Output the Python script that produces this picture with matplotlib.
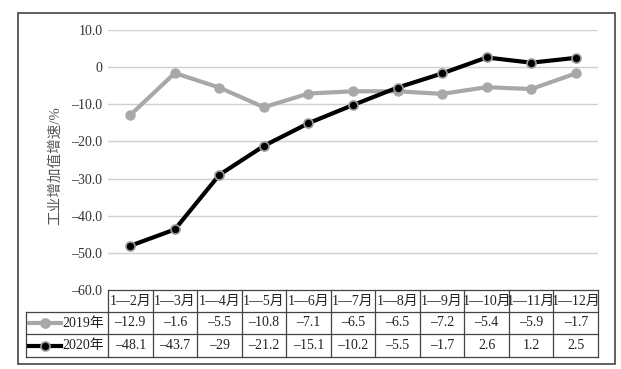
import matplotlib
matplotlib.use("Agg")
import matplotlib.pyplot as plt
from matplotlib.lines import Line2D
from matplotlib.patches import Rectangle
import matplotlib.transforms as mtrans

plt.rcParams['font.family'] = ['Liberation Serif', 'Noto Sans CJK SC']
plt.rcParams['axes.unicode_minus'] = False

categories = ["1—2月", "1—3月", "1—4月", "1—5月", "1—6月", "1—7月", "1—8月",
              "1—9月", "1—10月", "1—11月", "1—12月"]
series_names = ["2019年", "2020年"]
v2019 = [-12.9, -1.6, -5.5, -10.8, -7.1, -6.5, -6.5, -7.2, -5.4, -5.9, -1.7]
v2020 = [-48.1, -43.7, -29, -21.2, -15.1, -10.2, -5.5, -1.7, 2.6, 1.2, 2.5]
yticks = [10, 0, -10, -20, -30, -40, -50, -60]
ylabel = "工业增加值增速/%"

W, H = 621, 369
fig = plt.figure(figsize=(W / 100, H / 100), dpi=100)

def fx(px):
    return px / W

def fy(py):
    return 1 - py / H

ax_l, ax_r, ax_t, ax_b = 108, 598, 30, 290
ax = fig.add_axes([fx(ax_l), fy(ax_b), fx(ax_r - ax_l), (ax_b - ax_t) / H])
n = len(categories)
xs = list(range(n))
ax.set_xlim(-0.5, n - 0.5)
ax.set_ylim(-60, 10)
for s in ax.spines.values():
    s.set_visible(False)
ax.set_xticks([])
ax.set_yticks(yticks)
ax.set_yticklabels([("%.1f" % t).replace("-", "–") if t != 0 else "0" for t in yticks],
                   fontsize=10, color="#333333")
ax.tick_params(axis='y', length=0, pad=4)
for t in yticks:
    if t > -60:
        ax.axhline(t, color="#d0d0d0", lw=1, zorder=0)

gray = "#a8a8a8"
ax.plot(xs, v2019, color=gray, lw=3, marker='o', ms=6.5, mfc=gray, mec=gray, zorder=3)
ax.plot(xs, v2020, color="black", lw=3, marker='o', ms=6.5, mfc="black", mec="#9a9a9a",
        mew=1.2, zorder=4)

ax.set_ylabel(ylabel, fontsize=10.5, color="#555555")
ax.yaxis.set_label_coords(fx(62 - ax_l) / fx(ax_r - ax_l), (ax_b - 166) / (ax_b - ax_t))

# table
trans = mtrans.blended_transform_factory(ax.transData, fig.transFigure)
rows_y = [290, 312, 334, 357]
lc = "#444444"
lw = 0.9
for py in rows_y:
    fig.add_artist(Line2D([-0.5, n - 0.5], [fy(py), fy(py)], transform=trans, color=lc, lw=lw))
for py in rows_y[1:]:
    fig.add_artist(Line2D([fx(26), fx(ax_l)], [fy(py), fy(py)], color=lc, lw=lw))
fig.add_artist(Line2D([fx(26), fx(26)], [fy(rows_y[1]), fy(rows_y[3])], color=lc, lw=lw))
for i in range(n + 1):
    fig.add_artist(Line2D([i - 0.5, i - 0.5], [fy(rows_y[0]), fy(rows_y[3])], transform=trans,
                          color=lc, lw=lw))
for i, c in enumerate(categories):
    fig.text(i, fy((rows_y[0] + rows_y[1]) / 2), c, transform=trans, ha='center', va='center',
             fontsize=10, color="#222222")
for r, vals in enumerate([v2019, v2020]):
    yc = fy((rows_y[r + 1] + rows_y[r + 2]) / 2)
    for i, v in enumerate(vals):
        s = ("%g" % v).replace("-", "–")
        fig.text(i, yc, s, transform=trans, ha='center', va='center', fontsize=10, color="#222222")
styles = [dict(color=gray, mfc=gray, mec=gray), dict(color="black", mfc="black", mec="#9a9a9a")]
for r, name in enumerate(series_names):
    yc = fy((rows_y[r + 1] + rows_y[r + 2]) / 2)
    st = styles[r]
    fig.add_artist(Line2D([fx(29), fx(61)], [yc, yc], color=st['color'], lw=3))
    fig.add_artist(Line2D([fx(45)], [yc], marker='o', ms=6.5, mfc=st['mfc'], mec=st['mec'],
                          mew=1.2, linestyle='none'))
    fig.text(fx(62), yc, name, ha='left', va='center', fontsize=10, color="#222222")

fig.add_artist(Rectangle((fx(18), fy(364)), fx(615 - 18), (364 - 13) / H, fill=False,
                         edgecolor="#444444", lw=1.2))

fig.savefig("out.png", dpi=100)
